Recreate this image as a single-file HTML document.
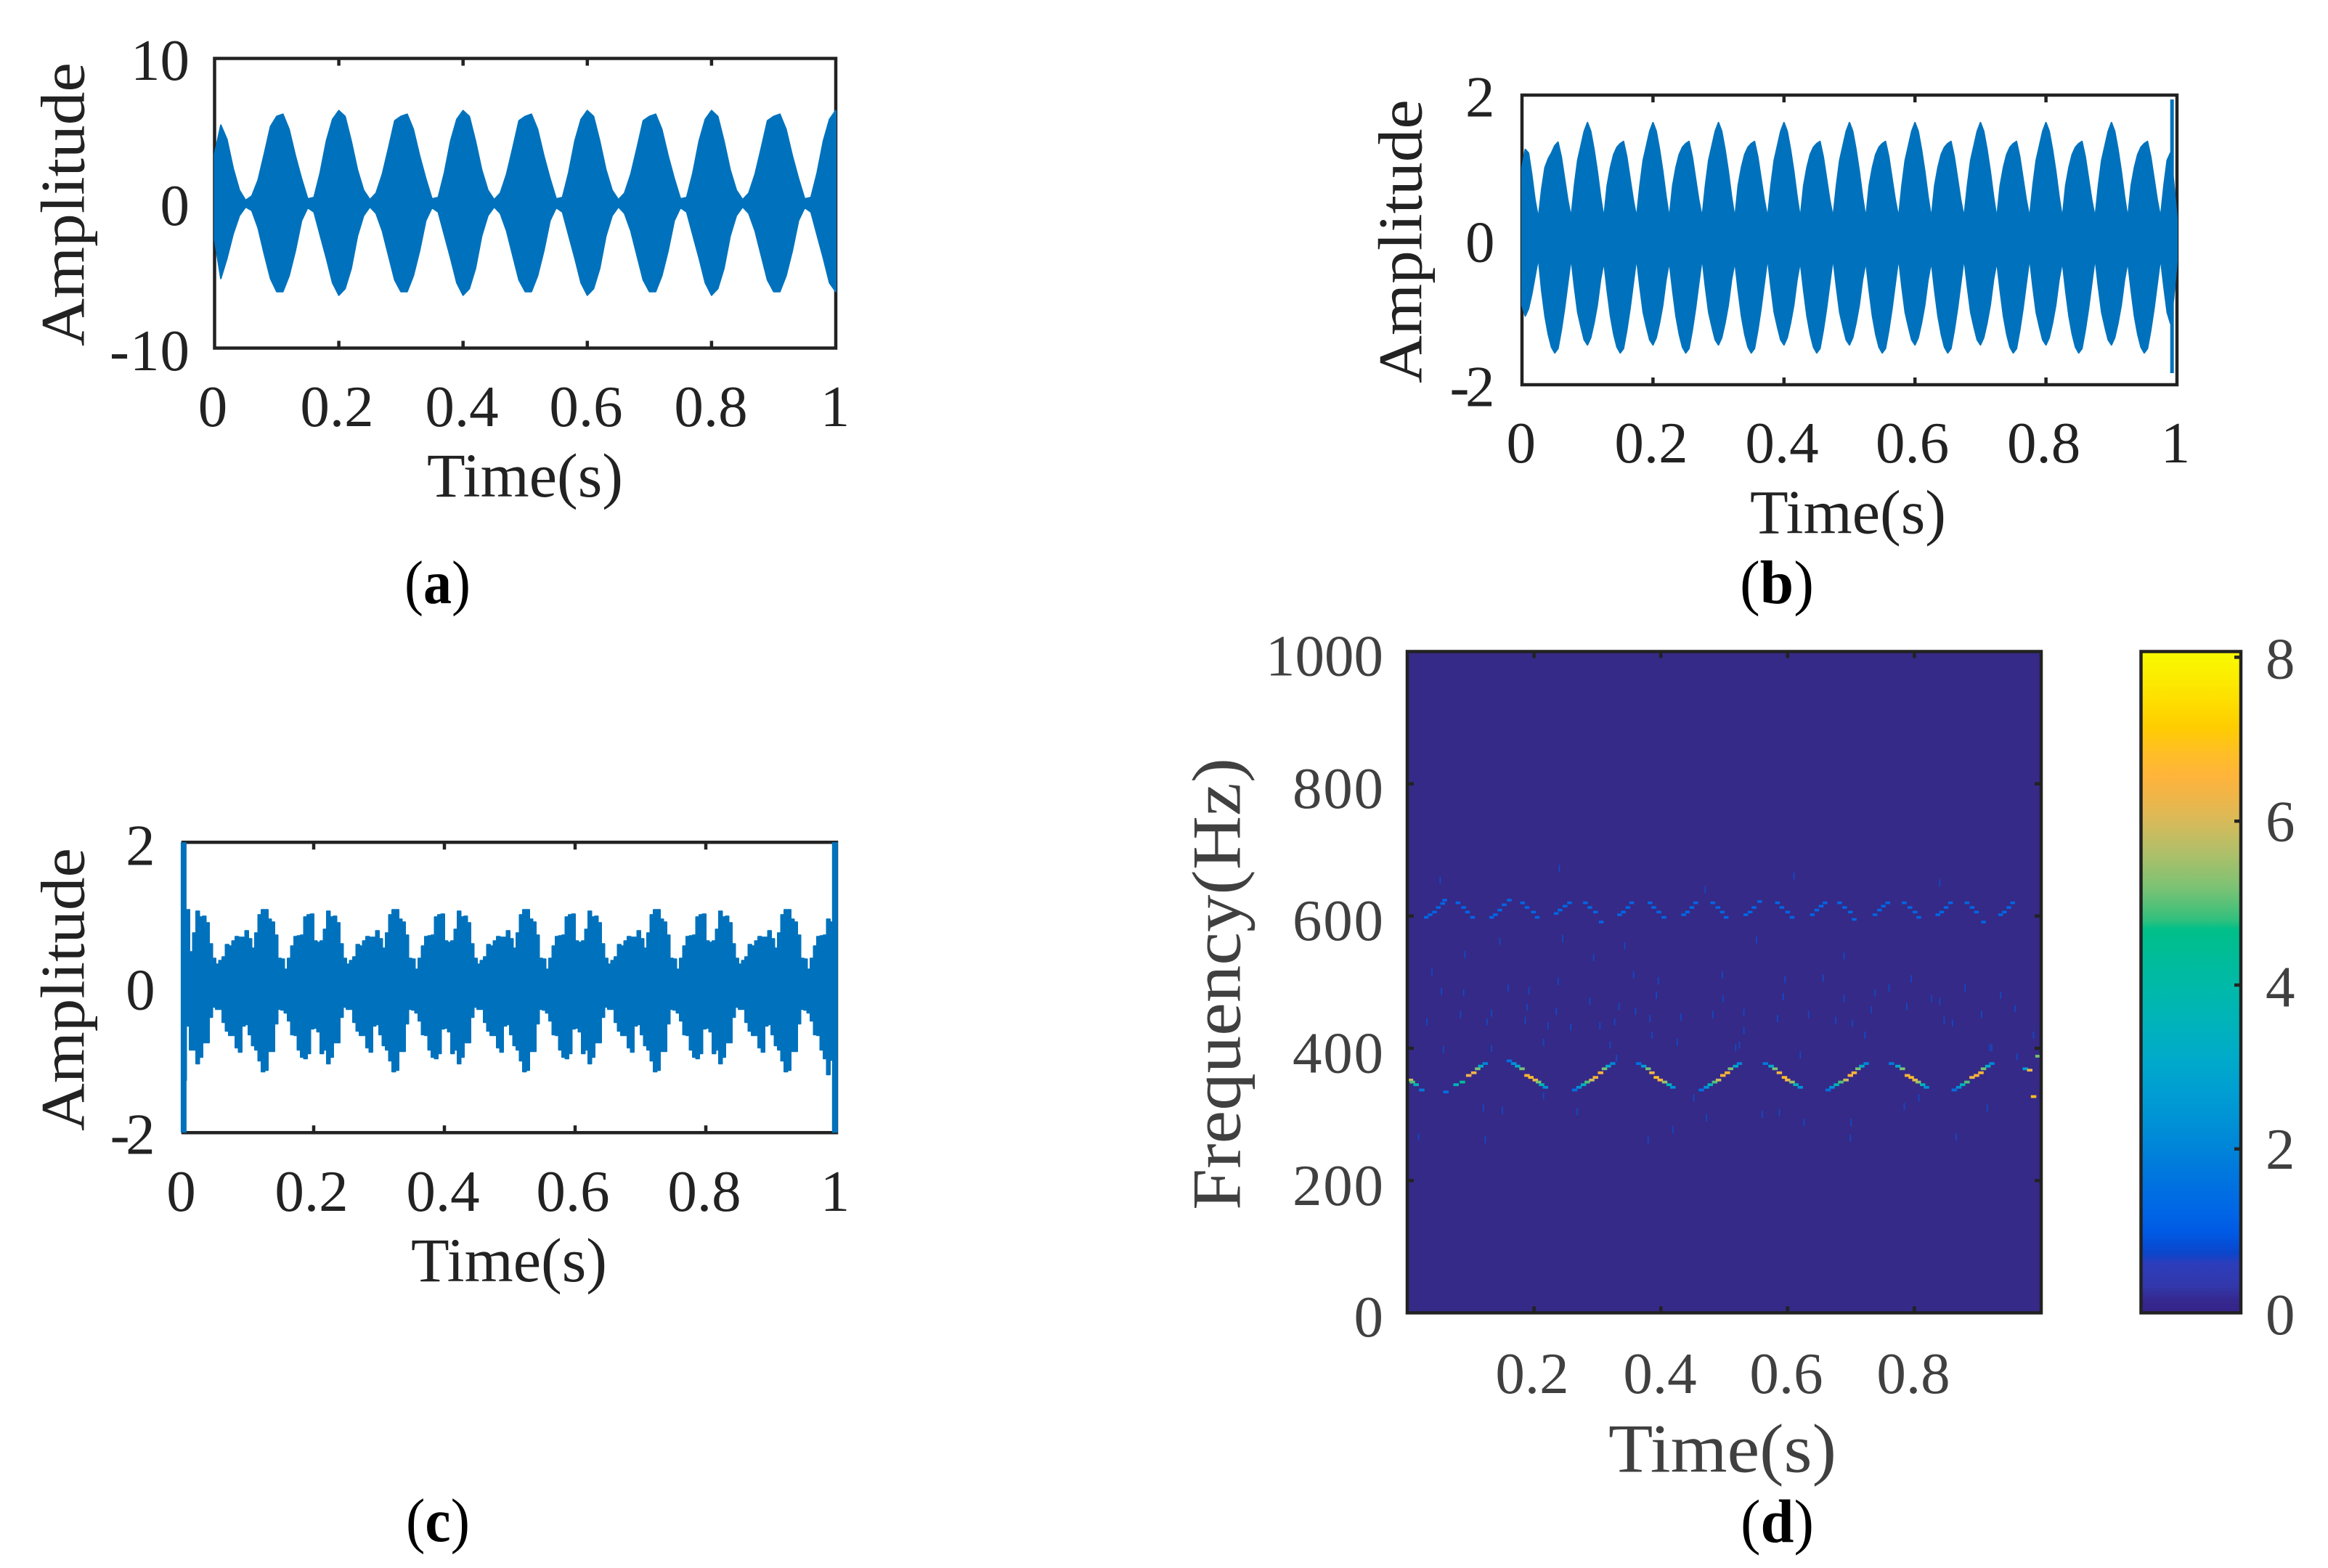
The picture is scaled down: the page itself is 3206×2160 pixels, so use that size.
<!DOCTYPE html>
<html lang="en">
<head>
<meta charset="utf-8">
<title>Signal panels and time-frequency map</title>
<style>
html,body{margin:0;padding:0;background:#fff;}
svg{display:block;}
text{font-family:"Liberation Serif",serif;fill:#222;font-size:81px;}
.lab{font-size:86px;}
.cap{font-size:85px;fill:#000;}
.cap tspan.b{font-weight:bold;}
.d text,text.d{fill:#404040;}
</style>
</head>
<body>
<svg id="fig" xmlns="http://www.w3.org/2000/svg" width="3206" height="2160" viewBox="0 0 3206 2160">
<defs><linearGradient id="scaleGradient" x1="0" y1="1" x2="0" y2="0"></linearGradient></defs>
<rect x="0" y="0" width="3206" height="2160" fill="#fff"/>
<g id="marks"></g>

<!-- panel a text -->
<g>
<text x="261" y="110" text-anchor="end">10</text>
<text x="261" y="310" text-anchor="end">0</text>
<text x="261" y="510" text-anchor="end" textLength="110">-10</text>
<text x="293" y="587" text-anchor="middle">0</text>
<text x="464" y="587" text-anchor="middle">0.2</text>
<text x="636" y="587" text-anchor="middle">0.4</text>
<text x="807" y="587" text-anchor="middle">0.6</text>
<text x="979" y="587" text-anchor="middle">0.8</text>
<text x="1150" y="587" text-anchor="middle">1</text>
<text x="588" y="684" class="lab" textLength="270" lengthAdjust="spacingAndGlyphs">Time(s)</text>
<text transform="translate(115.6 477) rotate(-90)" class="lab" textLength="391" lengthAdjust="spacingAndGlyphs">Amplitude</text>
<text x="557" y="831" class="cap" textLength="91" lengthAdjust="spacingAndGlyphs">(<tspan class="b">a</tspan>)</text>
</g>

<!-- panel b text -->
<g>
<text x="2058.5" y="160.6" text-anchor="end">2</text>
<text x="2058.5" y="360.6" text-anchor="end">0</text>
<text x="2058.5" y="559.6" text-anchor="end" textLength="62">-2</text>
<text x="2094.7" y="637" text-anchor="middle">0</text>
<text x="2274" y="637" text-anchor="middle">0.2</text>
<text x="2454" y="637" text-anchor="middle">0.4</text>
<text x="2633.6" y="637" text-anchor="middle">0.6</text>
<text x="2814.6" y="637" text-anchor="middle">0.8</text>
<text x="2996" y="637" text-anchor="middle">1</text>
<text x="2410" y="734.6" class="lab" textLength="270" lengthAdjust="spacingAndGlyphs">Time(s)</text>
<text transform="translate(1957.6 528) rotate(-90)" class="lab" textLength="391" lengthAdjust="spacingAndGlyphs">Amplitude</text>
<text x="2396" y="831" class="cap" textLength="102" lengthAdjust="spacingAndGlyphs">(<tspan class="b">b</tspan>)</text>
</g>

<!-- panel c text -->
<g>
<text x="213.6" y="1191.6" text-anchor="end">2</text>
<text x="213.6" y="1390.6" text-anchor="end">0</text>
<text x="213.6" y="1589.6" text-anchor="end" textLength="62">-2</text>
<text x="249.5" y="1668" text-anchor="middle">0</text>
<text x="429" y="1668" text-anchor="middle">0.2</text>
<text x="610" y="1668" text-anchor="middle">0.4</text>
<text x="789" y="1668" text-anchor="middle">0.6</text>
<text x="970" y="1668" text-anchor="middle">0.8</text>
<text x="1150" y="1668" text-anchor="middle">1</text>
<text x="566" y="1765" class="lab" textLength="270" lengthAdjust="spacingAndGlyphs">Time(s)</text>
<text transform="translate(115.6 1558) rotate(-90)" class="lab" textLength="390" lengthAdjust="spacingAndGlyphs">Amplitude</text>
<text x="559" y="2123" class="cap" textLength="88" lengthAdjust="spacingAndGlyphs">(<tspan class="b">c</tspan>)</text>
</g>

<!-- panel d text -->
<g class="d">
<text x="1905" y="930.5" text-anchor="end">1000</text>
<text x="1905" y="1113" text-anchor="end" textLength="125">800</text>
<text x="1905" y="1295" text-anchor="end" textLength="125">600</text>
<text x="1905" y="1477.7" text-anchor="end" textLength="125">400</text>
<text x="1905" y="1660" text-anchor="end" textLength="125">200</text>
<text x="1905" y="1841" text-anchor="end">0</text>
<text x="2110" y="1919" text-anchor="middle">0.2</text>
<text x="2286" y="1919" text-anchor="middle">0.4</text>
<text x="2460" y="1919" text-anchor="middle">0.6</text>
<text x="2635" y="1919" text-anchor="middle">0.8</text>
<text x="2215" y="2027.5" style="font-size:95px" textLength="314" lengthAdjust="spacingAndGlyphs">Time(s)</text>
<text transform="translate(1707.6 1667) rotate(-90)" style="font-size:95px" textLength="623" lengthAdjust="spacingAndGlyphs">Frequency(Hz)</text>
<text x="3120" y="934.6">8</text>
<text x="3120" y="1158.5">6</text>
<text x="3120" y="1386.5">4</text>
<text x="3120" y="1610">2</text>
<text x="3120" y="1838">0</text>
</g>
<text x="2397" y="2124.5" class="cap" textLength="101" lengthAdjust="spacingAndGlyphs">(<tspan class="b">d</tspan>)</text>
</svg>

<script>
// ---------- chart values ----------
var timeTicks = [0.2, 0.4, 0.6, 0.8];
var freqTicks = [200, 400, 600, 800];
var colorbarTicks = [0, 2, 4, 6, 8];

var stepA = 0.01;
var upperA = [3.4,5.4,4.4,2.4,0.9,0.2,0.5,1.6,3.4,5.3,
6.0,6.15,5.1,3.3,1.7,0.3,0.4,2.1,4.3,5.8,6.4,6.0,4.3,2.3,0.9,0.25,0.7,2.0,3.8,5.7,
6.0,6.15,5.1,3.3,1.7,0.3,0.4,2.1,4.3,5.8,6.4,6.0,4.3,2.3,0.9,0.25,0.7,2.0,3.8,5.7,
6.0,6.15,5.1,3.3,1.7,0.3,0.4,2.1,4.3,5.8,6.4,6.0,4.3,2.3,0.9,0.25,0.7,2.0,3.8,5.7,
6.0,6.15,5.1,3.3,1.7,0.3,0.4,2.1,4.3,5.8,6.4,6.0,4.3,2.3,0.9,0.25,0.7,2.0,3.8,5.7,
6.0,6.15,5.1,3.3,1.7,0.3,0.4,2.1,4.3,5.8,6.4];
var lowerA = [-2.5,-5.2,-3.8,-2.1,-0.85,-0.25,-0.5,-1.7,-3.5,-5.2,
-6.1,-6.1,-5.0,-3.3,-1.2,-0.3,-0.6,-2.2,-3.8,-5.5,-6.35,-5.9,-4.5,-2.25,-0.85,-0.25,-0.7,-1.9,-3.6,-5.3,
-6.1,-6.1,-5.0,-3.3,-1.2,-0.3,-0.6,-2.2,-3.8,-5.5,-6.35,-5.9,-4.5,-2.25,-0.85,-0.25,-0.7,-1.9,-3.6,-5.3,
-6.1,-6.1,-5.0,-3.3,-1.2,-0.3,-0.6,-2.2,-3.8,-5.5,-6.35,-5.9,-4.5,-2.25,-0.85,-0.25,-0.7,-1.9,-3.6,-5.3,
-6.1,-6.1,-5.0,-3.3,-1.2,-0.3,-0.6,-2.2,-3.8,-5.5,-6.35,-5.9,-4.5,-2.25,-0.85,-0.25,-0.7,-1.9,-3.6,-5.3,
-6.1,-6.1,-5.0,-3.3,-1.2,-0.3,-0.6,-2.2,-3.8,-5.5,-6.1];

var stepB = 0.005;
var upperB = [1.0,1.25,1.2,0.9,0.55,0.3,0.7,1.0,1.12,1.2,1.3,1.35,1.15,0.85,0.55,
0.31,0.75,1.1,1.3,1.5,1.62,1.5,1.25,0.95,0.6,0.3,0.75,1.0,1.18,1.28,1.33,1.36,1.15,0.85,0.55,
0.31,0.75,1.1,1.3,1.5,1.62,1.5,1.25,0.95,0.6,0.3,0.75,1.0,1.18,1.28,1.33,1.36,1.15,0.85,0.55,
0.31,0.75,1.1,1.3,1.5,1.62,1.5,1.25,0.95,0.6,0.3,0.75,1.0,1.18,1.28,1.33,1.36,1.15,0.85,0.55,
0.31,0.75,1.1,1.3,1.5,1.62,1.5,1.25,0.95,0.6,0.3,0.75,1.0,1.18,1.28,1.33,1.36,1.15,0.85,0.55,
0.31,0.75,1.1,1.3,1.5,1.62,1.5,1.25,0.95,0.6,0.3,0.75,1.0,1.18,1.28,1.33,1.36,1.15,0.85,0.55,
0.31,0.75,1.1,1.3,1.5,1.62,1.5,1.25,0.95,0.6,0.3,0.75,1.0,1.18,1.28,1.33,1.36,1.15,0.85,0.55,
0.31,0.75,1.1,1.3,1.5,1.62,1.5,1.25,0.95,0.6,0.3,0.75,1.0,1.18,1.28,1.33,1.36,1.15,0.85,0.55,
0.31,0.75,1.1,1.3,1.5,1.62,1.5,1.25,0.95,0.6,0.3,0.75,1.0,1.18,1.28,1.33,1.36,1.15,0.85,0.55,
0.31,0.75,1.1,1.3,1.5,1.62,1.5,1.25,0.95,0.6,0.3,0.75,1.0,1.18,1.28,1.33,1.36,1.15,0.85,0.55,
0.31,0.75,1.1,1.2,0.8,0.3];
var lowerB = [-0.9,-1.05,-0.95,-0.75,-0.5,-0.25,-0.7,-1.05,-1.3,-1.48,-1.56,-1.5,-1.25,-0.95,-0.6,
-0.25,-0.65,-1.0,-1.2,-1.38,-1.45,-1.35,-1.15,-0.9,-0.55,-0.3,-0.7,-1.05,-1.3,-1.48,-1.56,-1.5,-1.25,-0.95,-0.6,
-0.25,-0.65,-1.0,-1.2,-1.38,-1.45,-1.35,-1.15,-0.9,-0.55,-0.3,-0.7,-1.05,-1.3,-1.48,-1.56,-1.5,-1.25,-0.95,-0.6,
-0.25,-0.65,-1.0,-1.2,-1.38,-1.45,-1.35,-1.15,-0.9,-0.55,-0.3,-0.7,-1.05,-1.3,-1.48,-1.56,-1.5,-1.25,-0.95,-0.6,
-0.25,-0.65,-1.0,-1.2,-1.38,-1.45,-1.35,-1.15,-0.9,-0.55,-0.3,-0.7,-1.05,-1.3,-1.48,-1.56,-1.5,-1.25,-0.95,-0.6,
-0.25,-0.65,-1.0,-1.2,-1.38,-1.45,-1.35,-1.15,-0.9,-0.55,-0.3,-0.7,-1.05,-1.3,-1.48,-1.56,-1.5,-1.25,-0.95,-0.6,
-0.25,-0.65,-1.0,-1.2,-1.38,-1.45,-1.35,-1.15,-0.9,-0.55,-0.3,-0.7,-1.05,-1.3,-1.48,-1.56,-1.5,-1.25,-0.95,-0.6,
-0.25,-0.65,-1.0,-1.2,-1.38,-1.45,-1.35,-1.15,-0.9,-0.55,-0.3,-0.7,-1.05,-1.3,-1.48,-1.56,-1.5,-1.25,-0.95,-0.6,
-0.25,-0.65,-1.0,-1.2,-1.38,-1.45,-1.35,-1.15,-0.9,-0.55,-0.3,-0.7,-1.05,-1.3,-1.48,-1.56,-1.5,-1.25,-0.95,-0.6,
-0.25,-0.65,-1.0,-1.2,-1.38,-1.45,-1.35,-1.15,-0.9,-0.55,-0.3,-0.7,-1.05,-1.3,-1.48,-1.56,-1.5,-1.25,-0.95,-0.6,
-0.25,-0.65,-1.0,-1.15,-0.8,-0.3];
var spikeTimeB = [0.9925];
var spikeTopB = [1.94];
var spikeBottomB = [-1.84];

var stepC = 0.005;
var upperC = [1.07,1.07,0.49,0.75,
1.05,0.97,0.98,0.89,0.6,0.4,0.32,0.37,0.42,0.59,0.57,0.64,0.7,0.69,0.69,0.78,0.67,0.54,0.75,1.0,1.07,1.07,0.94,0.9,0.72,0.4,0.39,0.25,0.4,0.57,0.7,0.71,0.72,0.97,1.0,1.01,0.64,0.62,0.64,0.8,
1.05,0.97,0.98,0.89,0.6,0.4,0.32,0.37,0.42,0.59,0.57,0.64,0.7,0.69,0.69,0.78,0.67,0.54,0.75,1.0,1.07,1.07,0.94,0.9,0.72,0.4,0.39,0.25,0.4,0.57,0.7,0.71,0.72,0.97,1.0,1.01,0.64,0.62,0.64,0.8,
1.05,0.97,0.98,0.89,0.6,0.4,0.32,0.37,0.42,0.59,0.57,0.64,0.7,0.69,0.69,0.78,0.67,0.54,0.75,1.0,1.07,1.07,0.94,0.9,0.72,0.4,0.39,0.25,0.4,0.57,0.7,0.71,0.72,0.97,1.0,1.01,0.64,0.62,0.64,0.8,
1.05,0.97,0.98,0.89,0.6,0.4,0.32,0.37,0.42,0.59,0.57,0.64,0.7,0.69,0.69,0.78,0.67,0.54,0.75,1.0,1.07,1.07,0.94,0.9,0.72,0.4,0.39,0.25,0.4,0.57,0.7,0.71,0.72,0.97,1.0,1.01,0.64,0.62,0.64,0.8,
1.05,0.97,0.98,0.89,0.6,0.4,0.32,0.37,0.42,0.59,0.57,0.64,0.7,0.69,0.69,0.78,0.67,0.54,0.75,1.0,1.07,1.07,0.94,0.9,0.72,0.4,0.39,0.25,0.4,0.57,0.7,0.71,0.72,0.94,
0.9,0.7];
var lowerC = [-1.28,-1.28,-0.53,-0.86,
-0.86,-1.05,-0.96,-0.76,-0.76,-0.41,-0.27,-0.3,-0.3,-0.48,-0.6,-0.66,-0.66,-0.83,-0.89,-0.53,-0.51,-0.65,-0.8,-0.86,-1.01,-1.16,-1.14,-0.88,-0.88,-0.5,-0.3,-0.31,-0.35,-0.46,-0.65,-0.66,-0.86,-0.96,-0.98,-0.91,-0.57,-0.56,-0.61,-0.91,
-0.86,-1.05,-0.96,-0.76,-0.76,-0.41,-0.27,-0.3,-0.3,-0.48,-0.6,-0.66,-0.66,-0.83,-0.89,-0.53,-0.51,-0.65,-0.8,-0.86,-1.01,-1.16,-1.14,-0.88,-0.88,-0.5,-0.3,-0.31,-0.35,-0.46,-0.65,-0.66,-0.86,-0.96,-0.98,-0.91,-0.57,-0.56,-0.61,-0.91,
-0.86,-1.05,-0.96,-0.76,-0.76,-0.41,-0.27,-0.3,-0.3,-0.48,-0.6,-0.66,-0.66,-0.83,-0.89,-0.53,-0.51,-0.65,-0.8,-0.86,-1.01,-1.16,-1.14,-0.88,-0.88,-0.5,-0.3,-0.31,-0.35,-0.46,-0.65,-0.66,-0.86,-0.96,-0.98,-0.91,-0.57,-0.56,-0.61,-0.91,
-0.86,-1.05,-0.96,-0.76,-0.76,-0.41,-0.27,-0.3,-0.3,-0.48,-0.6,-0.66,-0.66,-0.83,-0.89,-0.53,-0.51,-0.65,-0.8,-0.86,-1.01,-1.16,-1.14,-0.88,-0.88,-0.5,-0.3,-0.31,-0.35,-0.46,-0.65,-0.66,-0.86,-0.96,-0.98,-0.91,-0.57,-0.56,-0.61,-0.91,
-0.86,-1.05,-0.96,-0.76,-0.76,-0.41,-0.27,-0.3,-0.3,-0.48,-0.6,-0.66,-0.66,-0.83,-0.89,-0.53,-0.51,-0.65,-0.8,-0.86,-1.01,-1.16,-1.14,-0.88,-0.88,-0.5,-0.3,-0.31,-0.35,-0.46,-0.65,-0.66,-0.86,-0.98,
-1.2,-1.0];
var spikeTimeC = [0.001, 0.9975];
var spikeTopC = [2, 2];
var spikeBottomC = [-2, -2];

// time-frequency ridges: time (s), frequency (Hz), magnitude
var lowRidgeTime = [0.005,0.008,0.014,0.023,
0.061,0.077,0.087,0.097,0.105,0.111,0.116,0.123,
0.161,0.168,0.174,0.181,0.189,0.195,0.202,0.207,0.212,0.218,
0.264,0.271,0.278,0.284,0.291,0.297,0.305,0.311,0.317,0.324,
0.365,0.373,0.380,0.386,0.393,0.399,0.406,0.413,0.419,
0.464,0.472,0.478,0.485,0.491,0.498,0.505,0.510,0.518,0.524,
0.565,0.574,0.580,0.587,0.595,0.600,0.607,0.613,0.620,
0.664,0.670,0.677,0.684,0.692,0.699,0.705,0.711,0.717,0.724,
0.764,0.774,0.781,0.789,0.795,0.801,0.806,0.813,0.819,
0.863,0.870,0.876,0.883,0.891,0.898,0.905,0.909,0.916,0.922,
0.975,0.982,0.988,0.995];
var lowRidgeFreq = [352,349,345,337,
334,345,349,359,363,369,373,377,
381,377,373,369,359,356,352,349,345,341,
337,341,345,349,352,356,363,369,373,377,
377,373,369,363,356,352,349,345,341,
337,341,345,349,352,359,363,369,373,377,
377,373,369,363,356,352,349,345,341,
337,341,345,349,352,359,363,369,373,377,
377,373,369,359,356,352,349,345,341,
337,341,345,349,356,359,363,369,373,377,
369,367,327,388];
var lowRidgeMag = [6,5,4,2,
1.5,3.6,4.5,6.5,6.5,5.3,3.5,2.2,
1.6,2.4,3.5,5.3,6.8,7,6.5,5.3,3.8,2.6,
1.7,2.6,3.6,5,6,6.8,6.8,5.3,3.5,2.2,
1.6,3,5.3,6.5,7,6.8,5.5,3.8,2.6,
1.7,2.6,3.6,5,6,6.8,6.8,5.3,3.5,2.2,
1.8,3.2,5.3,6.5,7,6.5,5.5,3.8,2.6,
1.7,2.6,3.6,5,6,6.8,6.8,5.3,3.5,2.2,
1.8,3.2,5.3,6.8,7,6.5,5.5,3.8,2.6,
1.7,2.6,3.6,5,6.5,6.8,6.8,5.3,3.5,2.2,
3,6.5,7,5.2];

var highRidgeTime = [0.030,0.036,0.043,0.049,0.056,0.059,0.080,0.089,0.095,0.103,
0.133,0.139,0.146,0.153,0.161,0.182,0.189,0.199,0.205,
0.235,0.241,0.249,0.256,0.281,0.288,0.297,0.306,
0.335,0.341,0.348,0.354,0.383,0.389,0.397,0.405,
0.436,0.442,0.449,0.455,0.482,0.490,0.497,0.503,
0.534,0.541,0.547,0.556,0.584,0.591,0.600,0.607,
0.639,0.646,0.653,0.659,0.682,0.690,0.699,0.705,
0.738,0.745,0.751,0.758,0.784,0.793,0.801,0.807,
0.837,0.843,0.850,0.857,0.883,0.891,0.898,0.909,
0.936,0.942,0.949,0.955];
var highRidgeFreq = [598,602,606,613,619,624,620,613,606,598,
598,602,609,617,624,620,613,606,598,
604,609,615,620,620,613,606,591,
602,606,613,620,620,613,606,598,
602,606,613,620,620,613,606,598,
602,606,613,622,620,613,606,598,
602,609,615,620,620,613,606,595,
602,609,615,620,620,613,606,598,
602,606,613,620,620,613,606,591,
602,606,613,620];
var highRidgeMag = 1.4;

var speckTime = [0.091,0.294,0.396,0.497,0.596,0.795,0.760,0.089,0.393,0.189,0.732,0.788,0.031,0.126,0.186,0.327,0.584,0.702,0.860,0.498,0.288,0.531,0.722,0.988,0.215,0.320,0.426,0.518,0.620,0.919,0.840,0.689,0.334,0.222,0.386,0.052,0.240,0.610,0.840,0.470,0.150,0.700,0.560,0.915,
0.039,0.054,0.159,0.192,0.238,0.357,0.360,0.235,0.084,0.133,0.258,0.304,0.383,0.432,0.482,0.531,0.633,0.676,0.847,0.906,0.959,0.936,0.880,0.827,0.738,0.656,0.593,0.551,0.689,0.146,0.245,0.343,0.472,0.626,0.784,0.268,0.120,0.866,0.699,0.380,0.123,0.018,0.419,0.587,0.057,0.133,0.330,0.524,0.922,0.962,0.807,0.452,0.215];
var speckFreq = [542,537,502,511,504,505,491,484,480,462,458,463,440,440,442,440,445,438,438,475,471,427,420,420,409,405,409,401,390,401,471,475,463,434,420,654,672,660,650,640,306,288,300,310,
516,486,491,487,501,511,456,456,451,453,432,434,445,447,451,454,451,442,442,451,460,480,491,475,484,506,478,564,540,562,566,555,295,288,312,304,310,266,264,262,262,266,277,303,398,400,385,405,401,387,325,325,328];

// colour scale of panel d
var scaleValues = [0,0.15,0.33,0.6,0.73,0.97,1.24,1.5,1.78,2.05,2.32,2.7,3.12,3.6,4.04,4.4,4.68,4.79,4.95,5.17,5.4,5.65,5.85,6.08,6.3,6.56,6.85,7.15,7.4,7.64,7.85,8.04];
var scaleColors = ["#35238a","#35288f","#3238ab","#2c3dbb","#0a46cc","#0059e3","#0066e6","#006fe2","#007adc","#0086d8","#0091d6","#009ed2","#00abc9","#00b4b8","#00baa6","#00bd96","#00bf88","#30c07e","#50c178","#78c275","#96c16e","#b3bf68","#c8bc60","#dfb955","#efb548","#ffb43a","#ffbf24","#ffcd00","#fedb00","#fce700","#faf100","#f9f900"];
var scaleMax = 8.07;

// ---------- drawing ----------
var NS = "http://www.w3.org/2000/svg";
var root = document.getElementById("marks");
var INK = "#222222";
var BLUE = "#0072bd";

function make(tag, parent) {
  var el = document.createElementNS(NS, tag);
  parent.appendChild(el);
  return el;
}
function linearAxis(d0, d1, p0, p1) {
  return function (v) { return p0 + (v - d0) / (d1 - d0) * (p1 - p0); };
}
function drawFrame(x0, y0, x1, y1, name) {
  var r = make("rect", root);
  r.setAttribute("x", x0);
  r.setAttribute("y", y0);
  r.setAttribute("width", x1 - x0);
  r.setAttribute("height", y1 - y0);
  r.setAttribute("fill", "none");
  r.setAttribute("stroke", INK);
  r.setAttribute("stroke-width", "4.5");
  
  
}
function drawTick(x0, y0, x1, y1, name) {
  var l = make("line", root);
  l.setAttribute("x1", x0);
  l.setAttribute("y1", y0);
  l.setAttribute("x2", x1);
  l.setAttribute("y2", y1);
  l.setAttribute("stroke", INK);
  l.setAttribute("stroke-width", "4.5");
  
  
}
function drawSignal(upper, lower, step, xAxis, yAxis, stepped, name) {
  var d = "";
  for (var i = 0; i < upper.length; i++) {
    if (i && stepped) d += "L" + xAxis(i * step).toFixed(1) + " " + yAxis(upper[i - 1]).toFixed(1);
    d += (i ? "L" : "M") + xAxis(i * step).toFixed(1) + " " + yAxis(upper[i]).toFixed(1);
  }
  for (var j = lower.length - 1; j >= 0; j--) {
    if (stepped && j < lower.length - 1) d += "L" + xAxis(j * step).toFixed(1) + " " + yAxis(lower[j + 1]).toFixed(1);
    d += "L" + xAxis(j * step).toFixed(1) + " " + yAxis(lower[j]).toFixed(1);
  }
  d += "Z";
  var p = make("path", root);
  p.setAttribute("d", d);
  p.setAttribute("fill", BLUE);
  p.setAttribute("stroke", BLUE);
  p.setAttribute("stroke-width", "2");
  p.setAttribute("stroke-linejoin", "round");
  
  
}
function drawSpikes(times, tops, bottoms, xAxis, yAxis, widthPx, name) {
  times.forEach(function (t, i) {
    var l = make("line", root);
    l.setAttribute("x1", xAxis(t).toFixed(1));
    l.setAttribute("x2", xAxis(t).toFixed(1));
    l.setAttribute("y1", yAxis(tops[i]).toFixed(1));
    l.setAttribute("y2", yAxis(bottoms[i]).toFixed(1));
    l.setAttribute("stroke", BLUE);
    l.setAttribute("stroke-width", widthPx);
    
    
  });
}
function colorFor(m) {
  var c = scaleColors[0];
  for (var i = 0; i < scaleValues.length; i++) {
    if (scaleValues[i] <= m) c = scaleColors[i];
  }
  return c;
}
function drawCell(x, y, w, h, fill, name) {
  var r = make("rect", root);
  r.setAttribute("x", (x - w / 2).toFixed(1));
  r.setAttribute("y", (y - h / 2).toFixed(1));
  r.setAttribute("width", w);
  r.setAttribute("height", h);
  r.setAttribute("fill", fill);
  
  
}
function drawLinePanel(cfg) {
  var x = linearAxis(0, 1, cfg.l, cfg.r);
  var y = linearAxis(-cfg.ymax, cfg.ymax, cfg.b, cfg.t);
  drawFrame(cfg.l, cfg.t, cfg.r, cfg.b, cfg.id + "-axes-frame");
  timeTicks.forEach(function (v) {
    drawTick(x(v), cfg.t, x(v), cfg.t + 10, cfg.id + "-x-tick-top");
    drawTick(x(v), cfg.b, x(v), cfg.b - 10, cfg.id + "-x-tick-bottom");
  });
  drawSignal(cfg.upper, cfg.lower, cfg.step, x, y, cfg.stepped, cfg.id + "-signal");
  if (cfg.spikeTime) drawSpikes(cfg.spikeTime, cfg.spikeTop, cfg.spikeBottom, x, y, cfg.spikeWidth, cfg.id + "-edge-spike");
}

drawLinePanel({id: "a", l: 295.5, r: 1151, t: 80.5, b: 479.5, ymax: 10, upper: upperA, lower: lowerA, step: stepA, stepped: false});
drawLinePanel({id: "b", l: 2096, r: 2998, t: 131, b: 530, ymax: 2, upper: upperB, lower: lowerB, step: stepB, stepped: false, spikeTime: spikeTimeB, spikeTop: spikeTopB, spikeBottom: spikeBottomB, spikeWidth: 5});
drawLinePanel({id: "c", l: 252, r: 1152, t: 1160.3, b: 1560.3, ymax: 2, upper: upperC, lower: lowerC, step: stepC, stepped: true, spikeTime: spikeTimeC, spikeTop: spikeTopC, spikeBottom: spikeBottomC, spikeWidth: 8});

// panel d heat map
var dL = 1938, dR = 2811, dT = 897.5, dB = 1808.5;
var xD = linearAxis(0, 1, dL, dR);
var yD = linearAxis(0, 1000, dB, dT);
var heatBg = make("rect", root);
heatBg.setAttribute("x", dL);
heatBg.setAttribute("y", dT);
heatBg.setAttribute("width", dR - dL);
heatBg.setAttribute("height", dB - dT);
heatBg.setAttribute("fill", "#352a87");



speckTime.forEach(function (t, i) {
  drawCell(xD(t), yD(speckFreq[i]), 1.8, 10, "#1348c4", "heatmap-speck");
});
highRidgeTime.forEach(function (t, i) {
  drawCell(xD(t), yD(highRidgeFreq[i]), 6.5, 3.6, colorFor(highRidgeMag), "heatmap-cell-upper-ridge");
});
lowRidgeTime.forEach(function (t, i) {
  drawCell(xD(t), yD(lowRidgeFreq[i]), 7.5, 3.8, colorFor(lowRidgeMag[i]), "heatmap-cell-lower-ridge");
});
drawFrame(dL, dT, dR, dB, "d-axes-frame");
timeTicks.forEach(function (v) {
  drawTick(xD(v), dT, xD(v), dT + 9, "d-x-tick-top");
  drawTick(xD(v), dB, xD(v), dB - 9, "d-x-tick-bottom");
});
freqTicks.forEach(function (v) {
  drawTick(dL, yD(v), dL + 9, yD(v), "d-y-tick-left");
  drawTick(dR, yD(v), dR - 9, yD(v), "d-y-tick-right");
});

// colour bar
var cL = 2948.5, cR = 3086, cT = 897.5, cB = 1808.5;
var yC = linearAxis(0, scaleMax, cB, cT);
var grad = document.getElementById("scaleGradient");
scaleValues.forEach(function (v, i) {
  var s = make("stop", grad);
  s.setAttribute("offset", (v / scaleMax).toFixed(4));
  s.setAttribute("stop-color", scaleColors[i]);
});
var bar = make("rect", root);
bar.setAttribute("x", cL);
bar.setAttribute("y", cT);
bar.setAttribute("width", cR - cL);
bar.setAttribute("height", cB - cT);
bar.setAttribute("fill", "url(#scaleGradient)");


drawFrame(cL, cT, cR, cB, "colorbar-frame");
colorbarTicks.forEach(function (v) {
  if (v > 0) drawTick(cR, yC(v), cR - 9, yC(v), "colorbar-tick");
});
</script>
</body>
</html>
